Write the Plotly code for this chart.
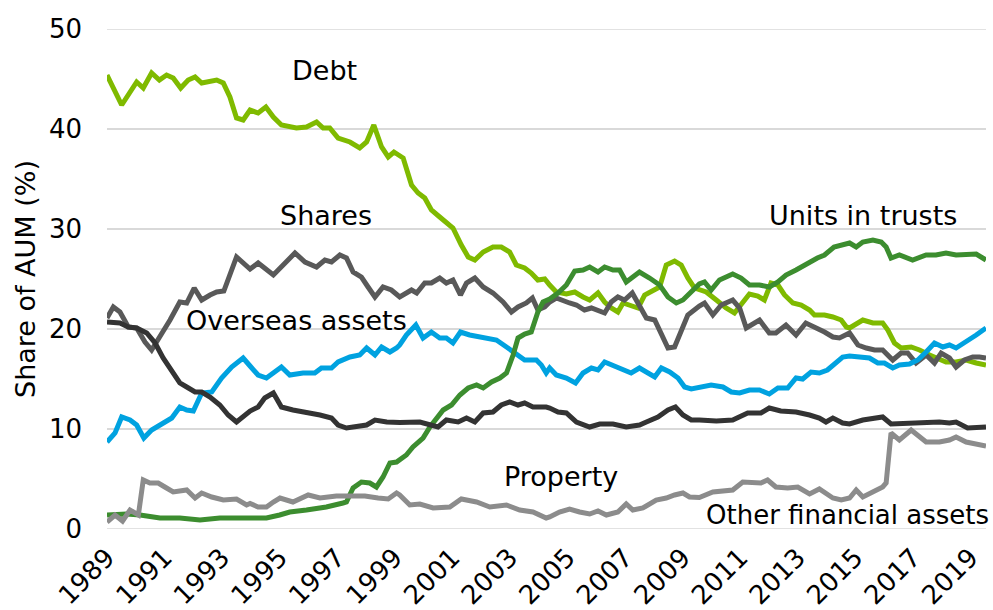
import plotly.graph_objects as go

# ---- Data (share of AUM, %) ----
debt_x = [1989.0, 1989.51, 1990.03, 1990.26, 1990.55, 1990.82, 1991.07, 1991.30, 1991.56, 1991.82,
          1992.06, 1992.29, 1992.81, 1993.04, 1993.27, 1993.50, 1993.73, 1993.97, 1994.25, 1994.52,
          1994.78, 1995.06, 1995.58, 1995.93, 1996.28, 1996.51, 1996.74, 1997.03, 1997.44, 1997.78,
          1998.02, 1998.27, 1998.54, 1998.77, 1998.97, 1999.17, 1999.29, 1999.58, 1999.81, 2000.04,
          2000.27, 2000.56, 2000.79, 2001.02, 2001.31, 2001.55, 2001.78, 2002.07, 2002.41, 2002.70,
          2002.99, 2003.22, 2003.51, 2003.74, 2003.97, 2004.21, 2004.38, 2004.61, 2004.96, 2005.25,
          2005.54, 2005.77, 2006.06, 2006.29, 2006.52, 2006.75, 2006.93, 2007.16, 2007.45, 2007.68,
          2007.91, 2008.20, 2008.43, 2008.72, 2008.95, 2009.18, 2009.41, 2009.58, 2009.82, 2010.17,
          2010.51, 2010.80, 2011.03, 2011.32, 2011.61, 2011.84, 2012.07, 2012.31, 2012.54, 2012.83,
          2013.12, 2013.41, 2013.58, 2013.93, 2014.22, 2014.51, 2014.69, 2014.80, 2015.26, 2015.61,
          2015.95, 2016.13, 2016.36, 2016.59, 2016.94, 2017.23, 2017.58, 2017.86, 2018.15, 2018.50,
          2018.85, 2019.20, 2019.54]
debt_y = [45.4, 42.4, 44.7, 44.1, 45.6, 44.9, 45.4, 45.1, 44.1, 44.9,
          45.2, 44.6, 44.9, 44.6, 43.2, 41.1, 40.9, 41.9, 41.6, 42.2,
          41.2, 40.4, 40.1, 40.2, 40.7, 40.1, 40.1, 39.1, 38.7, 38.1,
          38.7, 40.4, 38.2, 37.2, 37.7, 37.3, 37.1, 34.4, 33.6, 33.1,
          31.9, 31.2, 30.6, 30.1, 28.4, 27.2, 26.9, 27.7, 28.2, 28.2,
          27.7, 26.4, 26.1, 25.6, 24.9, 25.0, 24.4, 23.7, 23.5, 23.7,
          23.2, 22.9, 23.6, 22.7, 22.1, 21.7, 22.6, 22.4, 22.1, 23.4,
          23.7, 24.2, 26.4, 26.8, 26.4, 25.1, 24.1, 23.9, 23.7, 22.9,
          22.1, 21.6, 22.4, 23.5, 23.3, 22.9, 24.6, 24.4, 23.4, 22.6,
          22.4, 21.9, 21.4, 21.4, 21.2, 20.9, 20.2, 20.1, 20.9, 20.6,
          20.6, 19.9, 18.6, 18.1, 18.2, 17.9, 17.4, 17.1, 16.7, 16.7,
          16.9, 16.6, 16.4]

shares_x = [1989.0, 1989.22, 1989.45, 1989.74, 1990.03, 1990.32, 1990.55, 1990.84, 1991.19, 1991.53,
            1991.77, 1992.03, 1992.29, 1992.58, 1992.81, 1993.06, 1993.50, 1993.97, 1994.25, 1994.78,
            1995.12, 1995.53, 1995.88, 1996.28, 1996.57, 1996.80, 1997.09, 1997.32, 1997.55, 1997.84,
            1998.07, 1998.31, 1998.59, 1998.88, 1999.17, 1999.58, 1999.76, 2000.04, 2000.27, 2000.56,
            2000.79, 2001.02, 2001.28, 2001.49, 2001.78, 2002.07, 2002.41, 2002.76, 2003.05, 2003.28,
            2003.57, 2003.78, 2003.97, 2004.21, 2004.38, 2004.61, 2005.07, 2005.31, 2005.59, 2005.83,
            2006.29, 2006.52, 2006.75, 2006.98, 2007.25, 2007.50, 2007.74, 2008.03, 2008.26, 2008.49,
            2008.72, 2008.95, 2009.18, 2009.58, 2009.76, 2010.05, 2010.34, 2010.74, 2010.98, 2011.21,
            2011.67, 2012.01, 2012.24, 2012.59, 2012.94, 2013.28, 2013.58, 2013.93, 2014.22, 2014.45,
            2014.80, 2015.09, 2015.38, 2015.67, 2015.95, 2016.30, 2016.59, 2016.82, 2017.11, 2017.46,
            2017.75, 2017.98, 2018.27, 2018.50, 2018.79, 2019.08, 2019.31, 2019.54]
shares_y = [21.1, 22.2, 21.7, 20.2, 20.1, 18.7, 17.9, 19.2, 20.9, 22.7,
            22.6, 24.1, 22.9, 23.4, 23.7, 23.8, 27.2, 26.0, 26.6, 25.4,
            26.4, 27.6, 26.7, 26.2, 26.9, 26.7, 27.4, 27.1, 25.7, 25.2,
            24.2, 23.2, 24.2, 23.9, 23.2, 23.9, 23.6, 24.6, 24.6, 25.1,
            24.6, 24.9, 23.4, 24.6, 25.1, 24.2, 23.6, 22.7, 21.7, 22.2,
            22.6, 23.1, 21.9, 22.2, 22.7, 23.1, 22.6, 22.4, 21.9, 22.1,
            21.6, 22.7, 23.2, 22.9, 23.6, 22.4, 21.1, 20.9, 19.6, 18.1,
            18.2, 19.7, 21.4, 22.3, 22.6, 21.4, 22.4, 22.9, 22.1, 20.1,
            20.9, 19.6, 19.6, 20.4, 19.4, 20.6, 20.2, 19.7, 19.2, 19.1,
            19.6, 18.4, 18.1, 17.9, 17.9, 16.9, 17.6, 17.6, 16.6, 17.4,
            16.6, 17.6, 17.1, 16.2, 16.9, 17.2, 17.2, 17.1]

units_x = [1989.0, 1989.68, 1990.15, 1990.84, 1991.53, 1992.23, 1992.92, 1993.62, 1993.97, 1994.54,
           1995.0, 1995.35, 1995.93, 1996.62, 1997.20, 1997.32, 1997.55, 1997.84, 1998.13, 1998.36,
           1998.59, 1998.83, 1999.06, 1999.17, 1999.40, 1999.63, 1999.98, 2000.22, 2000.45, 2000.68,
           2000.97, 2001.26, 2001.55, 2001.84, 2002.07, 2002.36, 2002.65, 2002.88, 2003.11, 2003.28,
           2003.51, 2003.74, 2003.97, 2004.15, 2004.38, 2004.67, 2004.96, 2005.25, 2005.54, 2005.77,
           2006.06, 2006.29, 2006.58, 2006.81, 2007.04, 2007.50, 2007.85, 2008.20, 2008.49, 2008.78,
           2009.01, 2009.30, 2009.58, 2009.76, 2009.99, 2010.28, 2010.74, 2011.03, 2011.32, 2011.67,
           2012.01, 2012.31, 2012.59, 2012.94, 2013.28, 2013.68, 2013.93, 2014.26, 2014.80, 2015.03,
           2015.26, 2015.61, 2015.90, 2016.07, 2016.24, 2016.53, 2016.99, 2017.46, 2017.80, 2018.15,
           2018.50, 2018.85, 2019.20, 2019.54]
units_y = [1.4, 1.5, 1.4, 1.1, 1.1, 0.9, 1.1, 1.1, 1.2, 1.1,
           1.4, 1.7, 1.9, 2.2, 2.6, 2.7, 4.1, 4.7, 4.6, 4.2,
           5.2, 6.6, 6.7, 6.9, 7.4, 8.2, 9.1, 10.2, 11.1, 11.9,
           12.4, 13.4, 14.1, 14.4, 14.1, 14.7, 15.1, 15.6, 17.4, 19.1,
           19.5, 19.7, 21.7, 22.7, 23.0, 23.6, 24.4, 25.8, 25.9, 26.2,
           25.7, 26.2, 25.9, 25.9, 24.7, 25.7, 25.1, 24.4, 23.2, 22.6,
           22.9, 23.7, 24.5, 24.7, 23.9, 24.9, 25.5, 25.1, 24.4, 24.4,
           24.2, 24.7, 25.4, 25.9, 26.5, 27.1, 27.4, 28.2, 28.6, 28.2,
           28.7, 28.9, 28.7, 28.2, 27.1, 27.4, 26.9, 27.4, 27.4, 27.6,
           27.4, 27.5, 27.5, 26.9]

overseas_x = [1989.0, 1989.28, 1989.51, 1989.80, 1990.03, 1990.28, 1990.55, 1990.84, 1991.25, 1991.53,
              1991.77, 1992.0, 1992.29, 1992.64, 1992.98, 1993.33, 1993.73, 1993.97, 1994.25, 1994.54,
              1994.78, 1995.06, 1995.35, 1995.81, 1996.22, 1996.45, 1996.80, 1997.03, 1997.44, 1997.78,
              1998.02, 1998.31, 1998.54, 1998.83, 1999.06, 1999.17, 1999.40, 1999.73, 1999.98, 2000.27,
              2000.56, 2000.79, 2001.02, 2001.28, 2001.60, 2002.07, 2002.53, 2002.88, 2003.17, 2003.51,
              2003.92, 2004.09, 2004.26, 2004.38, 2004.61, 2004.96, 2005.28, 2005.54, 2005.83, 2006.06,
              2006.29, 2006.75, 2007.21, 2007.50, 2007.74, 2008.03, 2008.26, 2008.55, 2008.84, 2009.07,
              2009.30, 2009.58, 2009.99, 2010.40, 2010.69, 2010.98, 2011.32, 2011.67, 2012.01, 2012.31,
              2012.65, 2012.94, 2013.17, 2013.46, 2013.75, 2014.03, 2014.33, 2014.56, 2014.80, 2015.20,
              2015.49, 2015.78, 2016.01, 2016.30, 2016.53, 2016.88, 2017.17, 2017.46, 2017.75, 2018.04,
              2018.27, 2018.50, 2018.85, 2019.20, 2019.54]
overseas_y = [8.7, 9.6, 11.2, 10.9, 10.4, 9.1, 9.9, 10.4, 11.1, 12.2,
              11.9, 11.8, 13.6, 13.7, 15.1, 16.2, 17.1, 16.3, 15.4, 15.1,
              15.6, 16.2, 15.4, 15.6, 15.6, 16.1, 16.1, 16.7, 17.2, 17.4,
              18.1, 17.4, 18.2, 17.7, 18.1, 18.4, 19.4, 20.4, 19.1, 19.7,
              19.1, 19.1, 18.6, 19.7, 19.4, 19.2, 18.9, 18.2, 17.6, 16.9,
              16.9, 16.4, 15.6, 16.1, 15.4, 15.1, 14.6, 15.6, 16.1, 15.9,
              16.7, 16.2, 15.6, 16.1, 15.7, 15.2, 16.1, 15.7, 15.1, 14.2,
              14.0, 14.2, 14.4, 14.2, 13.7, 13.6, 13.9, 13.9, 13.5, 14.1,
              14.1, 15.1, 15.0, 15.7, 15.6, 15.9, 16.7, 17.2, 17.3, 17.2,
              17.1, 16.6, 16.6, 16.1, 16.4, 16.5, 16.9, 17.7, 18.6, 18.2,
              18.4, 18.1, 18.7, 19.4, 20.1]

property_x = [1989.0, 1989.45, 1989.74, 1990.03, 1990.38, 1990.67, 1990.95, 1991.25, 1991.53, 1991.77,
              1992.06, 1992.29, 1992.58, 1992.92, 1993.21, 1993.50, 1993.79, 1993.97, 1994.25, 1994.48,
              1994.78, 1995.06, 1995.46, 1995.93, 1996.40, 1996.80, 1997.03, 1997.32, 1997.67, 1998.02,
              1998.31, 1998.72, 1999.17, 1999.87, 2000.50, 2000.79, 2001.20, 2001.49, 2001.78, 2002.07,
              2002.41, 2002.70, 2002.99, 2003.28, 2003.51, 2003.80, 2004.26, 2004.38, 2004.67, 2004.96,
              2005.31, 2005.77, 2006.12, 2006.58, 2007.04, 2007.50, 2007.74, 2008.14, 2008.49, 2008.75,
              2009.01, 2009.30, 2009.58, 2010.17, 2010.74, 2011.26, 2011.72, 2012.01, 2012.41, 2012.94,
              2013.41, 2013.75, 2013.98, 2014.22, 2014.56, 2014.80, 2015.26, 2015.61, 2015.95, 2016.24,
              2016.76, 2017.46, 2017.92, 2018.27, 2018.50, 2018.90, 2019.20, 2019.54]
property_y = [20.7, 20.6, 20.2, 20.1, 19.6, 18.6, 17.1, 15.9, 14.6, 14.2,
              13.7, 13.7, 13.2, 12.4, 11.4, 10.7, 11.4, 11.8, 12.2, 13.1,
              13.6, 12.2, 11.9, 11.7, 11.4, 11.1, 10.4, 10.1, 10.2, 10.4,
              10.9, 10.7, 10.65, 10.7, 10.2, 10.9, 10.7, 11.1, 10.7, 11.6,
              11.7, 12.4, 12.7, 12.4, 12.6, 12.2, 12.2, 12.1, 11.7, 11.6,
              10.7, 10.2, 10.5, 10.5, 10.2, 10.4, 10.7, 11.2, 11.9, 12.2,
              11.4, 10.9, 10.9, 10.8, 10.9, 11.6, 11.6, 12.1, 11.8, 11.7,
              11.4, 11.1, 10.7, 11.1, 10.6, 10.5, 10.9, 11.1, 11.2, 10.5,
              10.6, 10.7, 10.7, 10.6, 10.7, 10.1, 10.1, 10.2]

other_x = [1989.0, 1989.28, 1989.54, 1989.80, 1990.09, 1990.26, 1990.49, 1990.78, 1991.01, 1991.30,
           1991.77, 1992.06, 1992.29, 1992.64, 1993.04, 1993.50, 1993.85, 1993.97, 1994.25, 1994.54,
           1994.78, 1995.01, 1995.46, 1995.99, 1996.40, 1996.97, 1997.44, 1997.96, 1998.42, 1998.77,
           1999.06, 1999.17, 1999.52, 1999.87, 2000.33, 2000.91, 2001.31, 2001.84, 2002.30, 2002.88,
           2003.34, 2003.80, 2004.26, 2004.38, 2004.72, 2005.07, 2005.42, 2005.77, 2006.06, 2006.35,
           2006.75, 2007.04, 2007.27, 2007.62, 2008.08, 2008.43, 2008.72, 2009.01, 2009.24, 2009.58,
           2010.05, 2010.74, 2011.09, 2011.49, 2011.72, 2011.95, 2012.24, 2012.65, 2013.0, 2013.41,
           2013.75, 2014.22, 2014.51, 2014.80, 2015.03, 2015.26, 2015.61, 2015.95, 2016.07, 2016.24,
           2016.53, 2016.94, 2017.46, 2017.92, 2018.27, 2018.50, 2018.85, 2019.20, 2019.54]
other_y = [0.7, 1.4, 0.8, 1.9, 1.4, 4.9, 4.6, 4.6, 4.2, 3.7,
           3.9, 3.1, 3.6, 3.2, 2.9, 3.0, 2.4, 2.55, 2.2, 2.2,
           2.7, 3.1, 2.7, 3.4, 3.1, 3.3, 3.3, 3.3, 3.1, 3.0,
           3.6, 3.4, 2.4, 2.5, 2.1, 2.2, 3.0, 2.7, 2.2, 2.4,
           1.9, 1.7, 1.1, 1.2, 1.7, 2.0, 1.7, 1.5, 1.8, 1.4,
           1.7, 2.5, 1.9, 2.1, 2.9, 3.1, 3.4, 3.6, 3.2, 3.15,
           3.7, 3.9, 4.7, 4.7, 4.6, 4.9, 4.2, 4.1, 4.2, 3.5,
           4.0, 3.1, 2.9, 3.1, 3.9, 3.2, 3.7, 4.2, 4.6, 9.6,
           8.9, 9.9, 8.7, 8.7, 8.9, 9.2, 8.7, 8.5, 8.3]

tick_years = list(range(1989, 2020, 2))
y_ticks = [0, 10, 20, 30, 40, 50]

series = [
    ("Debt", debt_x, debt_y, "#7fba00"),
    ("Shares", shares_x, shares_y, "#595959"),
    ("Overseas assets", overseas_x, overseas_y, "#00a2e0"),
    ("Units in trusts", units_x, units_y, "#3c8d2f"),
    ("Property", property_x, property_y, "#333333"),
    ("Other financial assets", other_x, other_y, "#8c8c8c"),
]

labels = [
    ("Debt", 1996.54, 45.9),
    ("Shares", 1996.61, 31.4),
    ("Overseas assets", 1995.57, 20.9),
    ("Units in trusts", 2015.27, 31.4),
    ("Property", 2004.77, 5.3),
]

FONT = "DejaVu Sans, Verdana, sans-serif"
GRID = "#d9d9d9"

fig = go.Figure()
for name, xs, ys, col in series:
    fig.add_trace(go.Scatter(x=xs, y=ys, mode="lines", name=name,
                             line=dict(color=col, width=5), showlegend=False))

for text, lx, ly in labels:
    fig.add_annotation(x=lx, y=ly, xref="x", yref="y", text=text, showarrow=False,
                       font=dict(family=FONT, size=27, color="#000000"),
                       xanchor="center", yanchor="middle")
# label at the right edge, anchored to the paper's right side
fig.add_annotation(x=1, y=1.4, xref="paper", yref="y", text="Other financial assets",
                   showarrow=False, xanchor="right", yanchor="middle", xshift=5,
                   font=dict(family=FONT, size=26, color="#000000"))
# y-axis title
fig.add_annotation(x=-0.0933, y=0.5, xref="paper", yref="paper", text="Share of AUM (%)",
                   showarrow=False, textangle=-90, xanchor="center", yanchor="middle",
                   font=dict(family=FONT, size=27, color="#000000"))

# gridlines at the ends of the value range (Plotly omits those on the plot edge)
for yv in (y_ticks[0], y_ticks[-1]):
    fig.add_shape(type="line", xref="paper", yref="y", x0=0, x1=1, y0=yv, y1=yv,
                  line=dict(color=GRID, width=1.5), layer="below")

fig.update_layout(
    width=993, height=610,
    margin=dict(l=107, r=7, t=29, b=81, autoexpand=False),
    paper_bgcolor="white", plot_bgcolor="white",
    font=dict(family=FONT, size=26, color="#000000"),
)
fig.update_xaxes(range=[1989, 2019.54], tickmode="array", tickvals=tick_years,
                 ticktext=[str(t) for t in tick_years], tickangle=-45,
                 showgrid=False, zeroline=False, showline=False, ticks="",
                 automargin=False, ticklabelstandoff=7,
                 tickfont=dict(family=FONT, size=26, color="#000000"))
fig.update_yaxes(range=[0, 50], tickmode="array", tickvals=y_ticks,
                 showgrid=True, gridcolor=GRID, gridwidth=1.5, zeroline=False,
                 showline=False, ticks="", automargin=False, ticklabelstandoff=24,
                 tickfont=dict(family=FONT, size=26, color="#000000"))

fig.write_html("out.html", config={"displayModeBar": False},
               post_script="document.body.style.margin='0';")
